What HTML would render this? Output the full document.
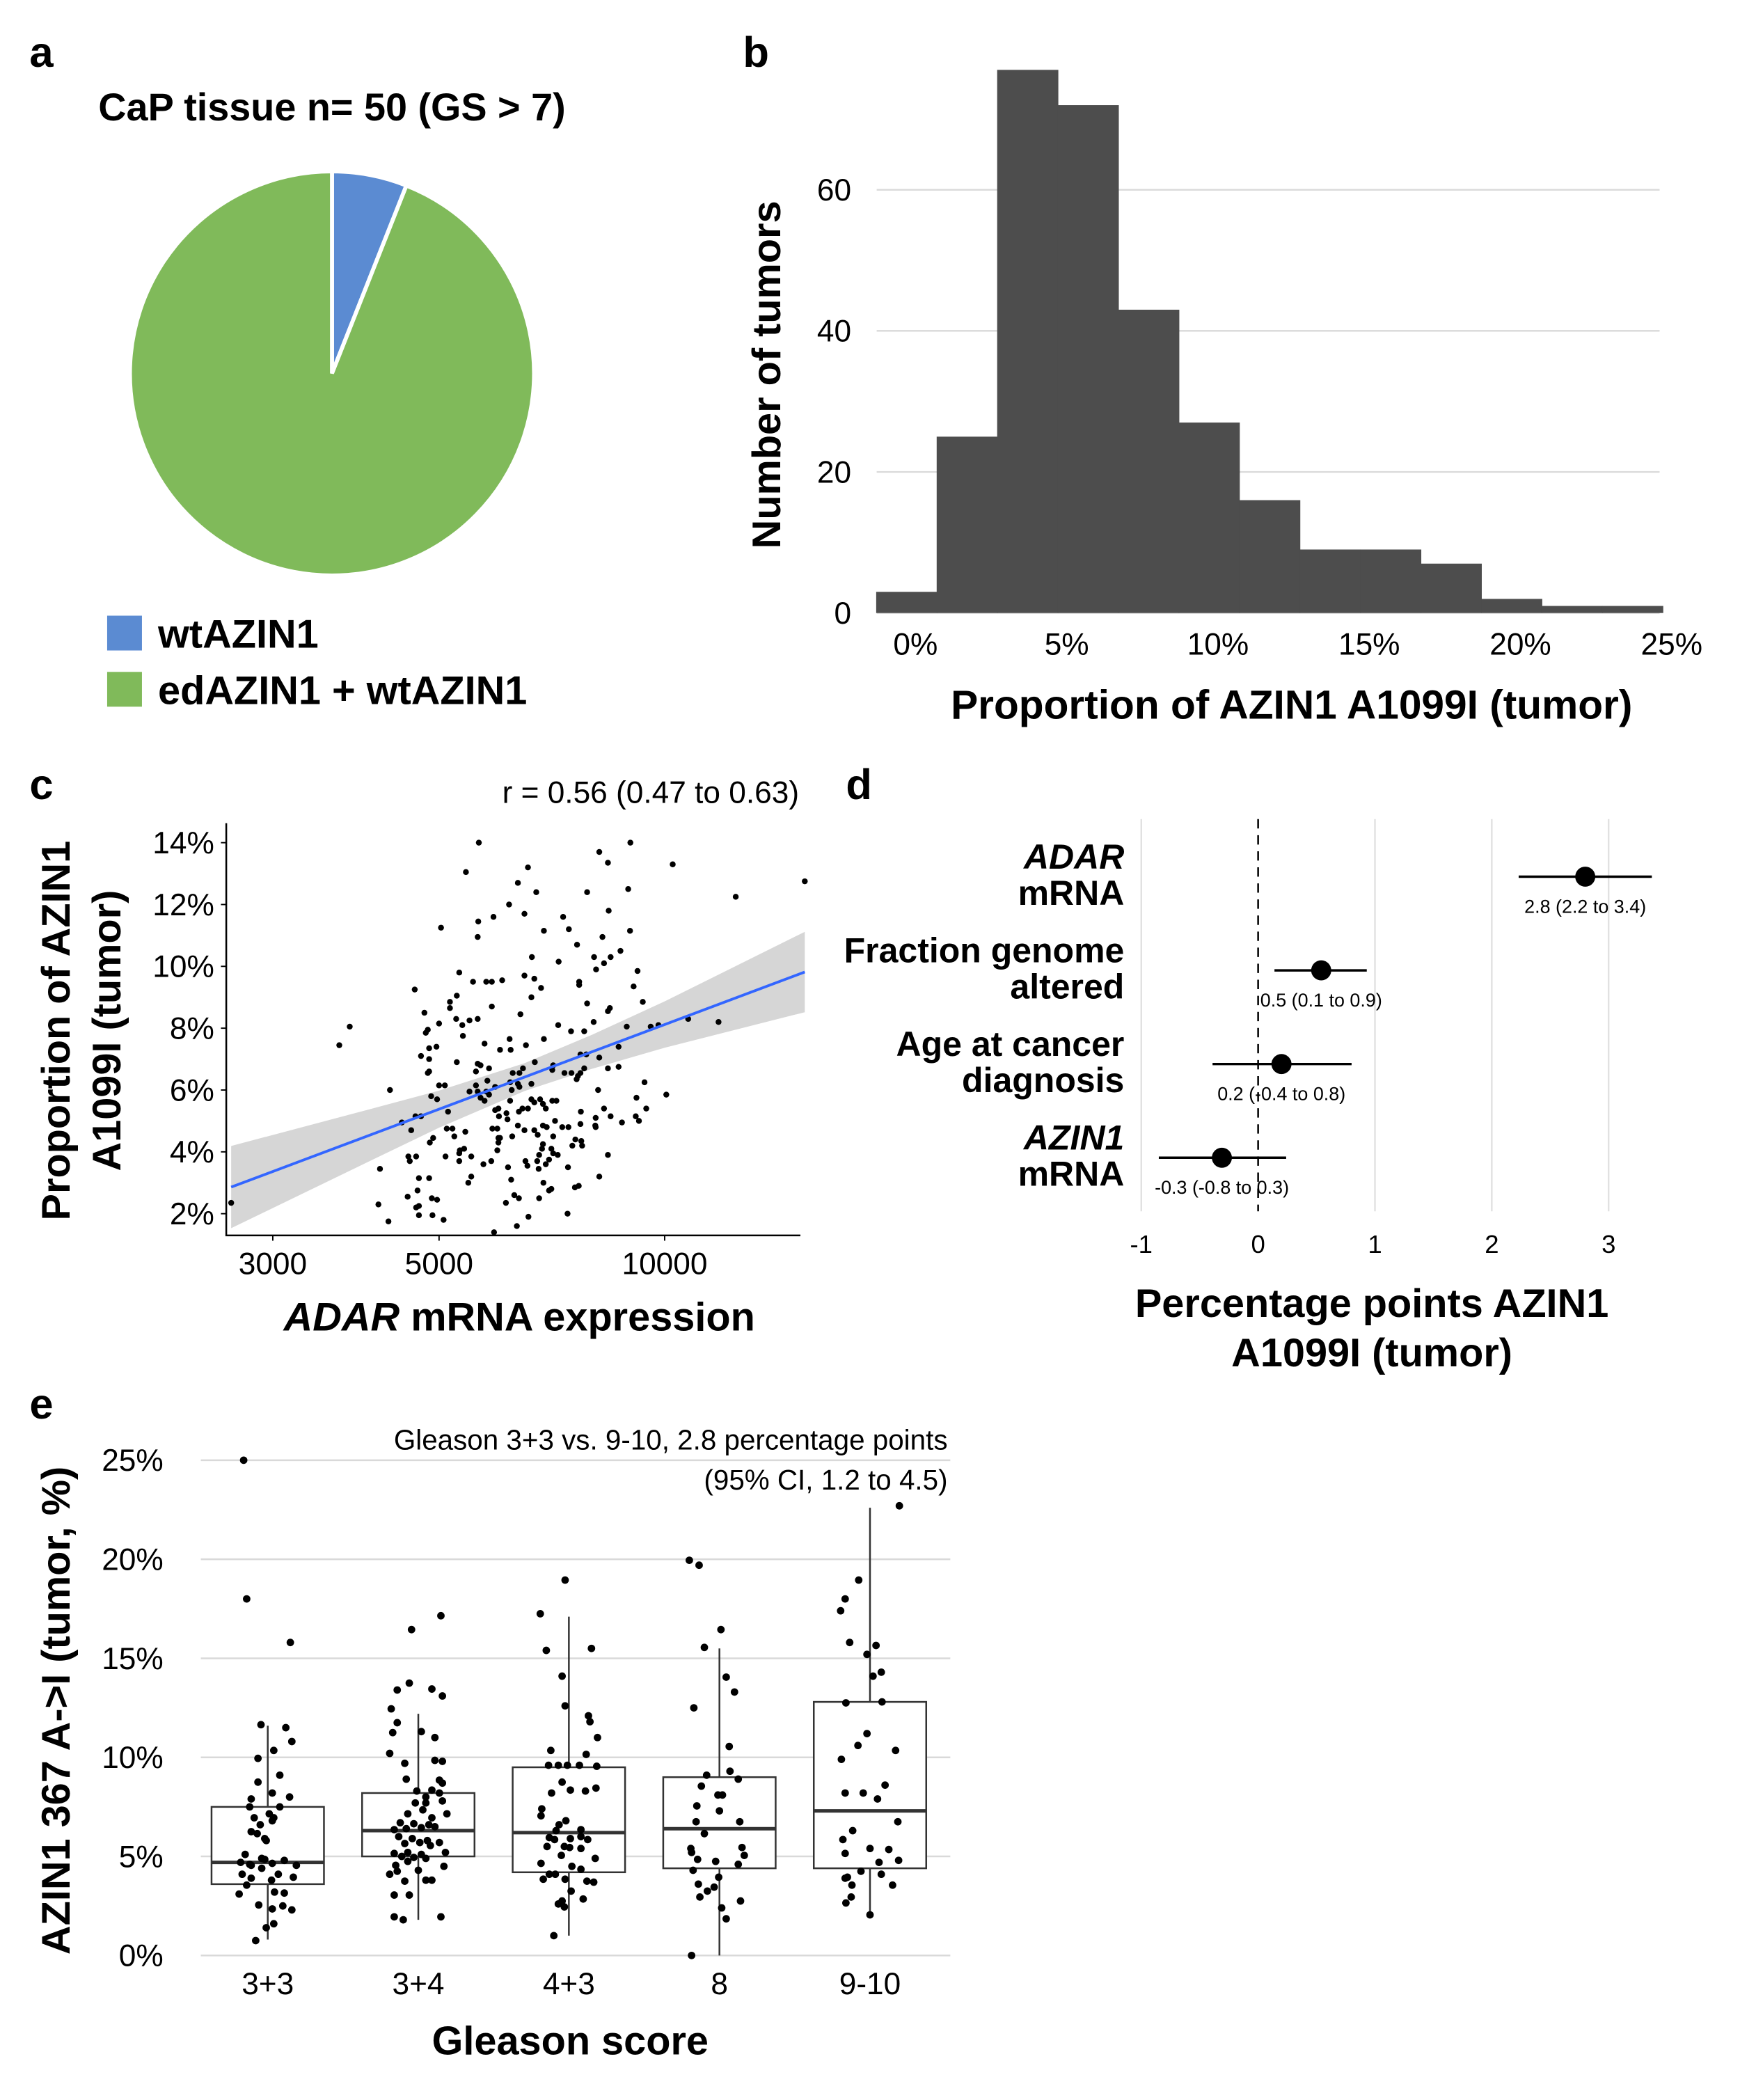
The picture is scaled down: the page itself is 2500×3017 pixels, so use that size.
<!DOCTYPE html>
<html><head><meta charset="utf-8">
<style>
html,body{margin:0;padding:0;background:#fff;}
svg{display:block;font-family:"Liberation Sans",Arial,sans-serif;}
.n{font-family:"Liberation Sans Narrow","Liberation Sans",sans-serif;}
.b{font-weight:bold;}
</style></head>
<body>
<svg id="fig" width="2500" height="3017" viewBox="0 0 1300 1569" xmlns="http://www.w3.org/2000/svg">
<g id="pa"></g>
<g id="pb"></g>
<g id="pc"></g>
<g id="pd"></g>
<g id="pe"></g>
</svg>
<script>
// ---------- data ----------
const pieLabels = ["wtAZIN1","edAZIN1 + wtAZIN1"];
const pieValues = [3,47];
const pieColors = ["#5b8bd2","#80ba5a"];

const histBinStart = -1.3; const histBinWidth = 2;
const histCounts = [3,25,77,72,43,27,16,9,9,7,2,1,1];
const histYTicks = [0,20,40,60];
const histXTicks = [0,5,10,15,20,25];

const scX = [15380,10750,11800,12440,10050,2640,3800,3680,4300,4170,4150,4280,5650,9000,8180,8400,10250,6570,5430,6370,8940,6740,7880,6200,6500,8420,5640,5910,7320,5030,6900,7450,8990,5630,8260,7640,8730,8050,8470,6650,7220,8300,8100,9200,5320,6500,6700,5550,5780,5880,6070,7690,7690,9090,4640,6840,6640,5280,7880,9350,5170,5170,5880,8450,8400,4780,6420,5270,5490,5630,8040,5000,5370,7210,8900,9580,9810,4830,4800,7500,7810,5380,6900,6210,5750,6530,4850,4960,6030,6230,8680,4730,7720,7860,4850,8180,5280,6710,5630,5680,5830,6470,7100,7080,8400,8680,7810,4830,4850,5600,6270,6400,7350,7510,7720,7630,7660,6220,5800,6370,6640,9400,5000,5090,5600,5940,6400,6250,8150,5490,5630,5780,5830,4880,4970,5680,5750,6220,6640,6700,6820,7080,7170,9170,6880,6940,9450,5940,6000,6390,6460,6570,7730,8300,5140,6150,6010,8090,8470,9150,9240,4650,4730,4460,8770,6170,7140,7720,8080,8090,4590,5120,5210,5420,5890,5980,6370,6500,6700,6880,6960,7300,7440,5240,6000,6030,6260,6770,7100,7600,4910,4860,6000,6880,7740,7530,7760,6860,7060,5980,5330,5400,5320,4550,4660,5100,5520,6800,7100,7200,8400,4570,5320,5730,5870,6520,6760,7010,6940,7430,6560,6180,6790,5520,8180,4700,4850,6240,5470,6890,7060,7680,7590,4680,7010,6300,4540,4890,4970,6390,6800,6140,4660,4700,4700,7420,4900,6580,5070,6350,5920];
const scY = [12.75,8.3,8.2,12.25,5.85,2.35,8.05,7.45,6.0,3.45,2.3,1.75,14.0,14.0,13.7,13.35,13.3,13.2,13.05,12.7,12.5,12.4,12.4,12.0,11.7,11.8,11.45,11.6,11.6,11.25,11.15,11.2,11.15,10.95,10.95,10.7,10.5,10.3,10.3,10.3,10.15,10.1,9.9,9.85,9.8,9.7,9.6,9.5,9.5,9.5,9.55,9.5,9.4,9.35,9.25,9.3,9.0,9.05,8.8,8.85,8.85,8.65,8.7,8.65,8.55,8.5,8.45,8.3,8.25,8.3,8.2,8.15,8.1,8.1,8.05,8.05,8.1,7.95,7.85,7.9,7.9,7.75,7.65,7.65,7.5,7.45,7.35,7.4,7.3,7.3,7.4,7.1,7.15,7.15,7.0,7.05,6.9,6.9,6.85,6.8,6.7,6.7,6.8,6.65,6.7,6.75,6.7,6.55,6.6,6.6,6.55,6.55,6.55,6.55,6.55,6.35,6.45,6.25,6.3,6.2,6.2,6.25,6.15,6.15,6.15,6.1,6.1,6.0,6.0,5.95,5.95,5.95,5.85,5.8,5.7,5.75,5.65,5.65,5.7,5.6,5.7,5.65,5.65,5.75,5.55,5.4,5.4,5.35,5.4,5.3,5.4,5.4,5.3,5.4,5.3,5.25,5.15,5.1,5.15,5.15,5.0,5.15,5.15,4.95,4.95,5.05,5.0,4.9,4.85,4.8,4.7,4.75,4.75,4.65,4.75,4.75,4.85,4.7,4.7,4.85,4.8,4.8,4.8,4.5,4.45,4.45,4.5,4.55,4.5,4.4,4.45,4.3,4.3,4.25,4.35,4.2,4.2,4.1,4.1,4.05,4.05,4.1,3.95,3.85,3.85,3.85,3.85,3.9,3.95,3.9,3.9,3.7,3.7,3.6,3.7,3.7,3.7,3.75,3.6,3.5,3.55,3.5,3.45,3.2,3.2,3.15,3.15,3.1,3.0,3.0,2.8,2.9,2.85,2.75,2.75,2.6,2.55,2.5,2.45,2.5,2.5,2.35,2.2,2.25,1.95,2.0,1.95,1.9,1.8,1.6,1.4];
const fitIntercept = 2.86; const fitSlope = 9.09; const fitX0 = 2640;
const bandX = [2640,4000,5000,6500,8000,10000,15380];
const bandHalf = [1.33,0.85,0.6,0.45,0.55,0.75,1.3];
const scXTicks = [3000,5000,10000];
const scYTicks = [2,4,6,8,10,12,14];

const forestLabels = [["ADAR","mRNA"],["Fraction genome","altered"],["Age at cancer","diagnosis"],["AZIN1","mRNA"]];
const forestItalic = [true,false,false,true];
const forestEst = [2.8,0.54,0.2,-0.31];
const forestLo = [2.23,0.14,-0.39,-0.85];
const forestHi = [3.37,0.93,0.8,0.24];
const forestText = ["2.8 (2.2 to 3.4)","0.5 (0.1 to 0.9)","0.2 (-0.4 to 0.8)","-0.3 (-0.8 to 0.3)"];
const forestXTicks = [-1,0,1,2,3];

const gleCats = ["3+3","3+4","4+3","8","9-10"];
const gleQ1 = [3.6,5.0,4.2,4.4,4.4];
const gleMed = [4.7,6.3,6.2,6.4,7.3];
const gleQ3 = [7.5,8.2,9.5,9.0,12.8];
const gleWLo = [0.8,1.8,1.0,0.0,2.0];
const gleWHi = [11.6,12.2,17.1,15.5,22.6];
const gleYTicks = [0,5,10,15,20,25];
const g33 = [[25.0,-.16],[18.0,-.14],[15.8,.15],[11.65,-.045],[11.5,.12],[10.8,.16],[9.95,-.065],[10.35,.04],[9.1,.08],[8.75,-.065],[7.9,-.11],[8.2,.03],[8.0,.145],[7.5,-.12],[7.5,.08],[7.15,.01],[6.95,.04],[6.95,-.09],[6.8,.03],[6.6,-.05],[6.25,-.11],[6.15,-.07],[5.9,-.02],[5.8,-.01],[5.1,-.15],[4.9,-.04],[4.85,-.02],[4.8,.11],[4.7,-.18],[4.6,-.12],[4.65,.03],[4.55,-.11],[4.55,.19],[4.4,-.04],[4.1,-.17],[4.1,.07],[3.95,.17],[3.9,-.11],[3.8,.025],[3.55,-.14],[3.1,-.19],[3.2,.045],[3.15,.11],[2.55,-.06],[2.35,.03],[2.5,.1],[2.3,.16],[1.6,.04],[1.4,-.01],[0.75,-.08]];
const g34 = [[17.15,.15],[16.45,-.045],[13.75,-.06],[13.4,-.14],[13.45,.09],[13.1,.16],[12.45,-.18],[11.75,-.14],[11.25,-.17],[11.3,.02],[11.0,.11],[10.2,-.19],[9.7,-.09],[9.85,.11],[9.8,.16],[8.9,-.08],[8.85,.14],[8.7,.16],[8.3,-.01],[8.35,.09],[8.2,.14],[8.0,.05],[7.8,.16],[7.7,.05],[7.7,-.02],[7.35,.03],[7.15,.19],[7.15,-.07],[6.95,.09],[6.7,-.12],[6.65,-.03],[6.6,.07],[6.35,-.16],[6.4,-.08],[6.45,.02],[6.5,.11],[6.0,-.13],[5.9,-.04],[5.8,.06],[5.7,.14],[5.65,-.09],[5.7,.01],[5.55,.08],[5.15,-.16],[5.2,-.07],[5.1,.02],[5.2,.18],[5.0,-.11],[4.95,-.03],[4.9,.05],[4.75,-.07],[4.55,-.15],[4.5,.17],[4.3,0],[4.25,-.14],[4.1,-.19],[3.75,-.09],[3.8,.05],[3.8,.09],[3.05,-.16],[3.05,-.06],[1.95,-.16],[1.8,-.1],[1.95,.15]];
const g43 = [[18.95,-.025],[17.25,-.19],[15.4,-.15],[15.5,.15],[14.1,-.045],[12.6,-.025],[12.1,.13],[11.8,.14],[11.0,.19],[10.35,-.12],[10.15,.115],[9.6,-.135],[9.6,-.07],[9.6,-.01],[9.6,.07],[9.55,.185],[8.75,-.045],[8.35,.01],[8.2,-.115],[8.3,.11],[8.45,.18],[7.4,-.18],[7.05,-.185],[6.8,-.02],[6.6,-.065],[6.3,-.085],[6.35,.08],[5.95,-.13],[5.85,-.095],[5.9,.01],[6.0,.08],[5.85,.125],[5.5,-.145],[5.5,-.03],[5.45,.005],[5.4,.08],[5.05,-.05],[4.9,.175],[4.65,-.185],[4.5,.02],[4.35,.08],[4.1,-.13],[4.1,-.09],[3.85,-.025],[3.85,-.17],[3.75,.12],[3.7,.165],[3.25,.015],[2.75,-.045],[2.6,-.07],[2.45,-.03],[2.85,.095],[1.0,-.1]];
const g8 = [[19.95,-.2],[19.7,-.135],[16.45,.01],[15.55,-.1],[14.05,.045],[13.3,.1],[12.5,-.17],[10.55,.065],[9.1,-.085],[9.3,.07],[8.9,.125],[8.55,-.12],[8.1,-.01],[8.1,.02],[7.55,-.15],[7.3,0],[6.75,-.155],[6.75,.135],[6.15,-.1],[5.4,-.19],[5.45,.15],[5.05,.165],[5.2,-.185],[4.85,-.145],[4.75,-.025],[4.6,.125],[4.3,-.175],[3.95,-.005],[3.6,-.14],[3.45,-.035],[3.25,-.08],[2.95,-.13],[2.75,.14],[2.4,.015],[1.85,.045],[0.0,-.185]];
const g910 = [[22.7,.195],[18.95,-.075],[17.4,-.195],[18.0,-.165],[15.8,-.135],[15.2,-.02],[15.65,.04],[14.3,.075],[14.1,.02],[12.75,-.16],[12.8,.08],[11.2,-.02],[10.6,-.08],[10.35,.17],[9.9,-.19],[8.6,.1],[8.2,-.165],[8.2,-.045],[7.9,.05],[6.75,.185],[6.3,-.115],[5.85,-.18],[5.4,0],[5.35,.125],[5.15,-.165],[4.8,.19],[4.7,.06],[4.25,-.06],[3.9,-.165],[3.95,-.15],[4.1,.075],[3.55,.15],[3.55,-.12],[2.95,-.125],[2.65,-.16],[2.05,0]];
const gleGroups = [g33,g34,g43,g8,g910];

// ---------- helpers ----------
const NS="http://www.w3.org/2000/svg";
function mk(parent,tag,attrs,text){const e=document.createElementNS(NS,tag);for(const k in attrs)e.setAttribute(k,attrs[k]);if(text!==undefined)e.textContent=text;parent.appendChild(e);return e;}

// ---------- panel a ----------
(function(){
const g=document.getElementById('pa');
let t=mk(g,'text',{x:22,y:50,'font-size':32,'font-weight':'bold'},'a');


t=mk(g,'text',{x:248,y:90,'font-size':29,'font-weight':'bold','text-anchor':'middle'},'CaP tissue n= 50 (GS > 7)');


const cx=248,cy=279,r=151;const tot=pieValues.reduce((a,b)=>a+b,0);let a0=0;
pieValues.forEach((v,i)=>{const a1=a0+v/tot*2*Math.PI;
 const x0=cx+r*Math.sin(a0),y0=cy-r*Math.cos(a0),x1=cx+r*Math.sin(a1),y1=cy-r*Math.cos(a1);
 const large=(a1-a0)>Math.PI?1:0;
 const p=mk(g,'path',{d:`M${cx},${cy} L${x0},${y0} A${r},${r} 0 ${large} 1 ${x1},${y1} Z`,fill:pieColors[i],stroke:'#fff','stroke-width':3});
 
 
 a0=a1;});
pieLabels.forEach((l,i)=>{const y=460+i*42;
 const s=mk(g,'rect',{x:80,y:y,width:26,height:26,fill:pieColors[i]});
 
 
 const tx=mk(g,'text',{x:118,y:y+24,'font-size':30,'font-weight':'bold'},l);
 
 });
})();

// ---------- panel b ----------
(function(){
const g=document.getElementById('pb');
let t=mk(g,'text',{x:555,y:50,'font-size':32,'font-weight':'bold'},'b');


const X=v=>684+v*22.6, Y=v=>458-v*5.27;
histYTicks.forEach(v=>{const l=mk(g,'line',{x1:655,x2:1240,y1:Y(v),y2:Y(v),stroke:'#d9d9d9','stroke-width':1.2});
 
 
 const tx=mk(g,'text',{x:636,y:Y(v)+8,'font-size':23,'text-anchor':'end',class:'n'},String(v));
 
 });
histCounts.forEach((c,i)=>{const x0=X(histBinStart+i*histBinWidth),x1=X(histBinStart+(i+1)*histBinWidth);
 const r=mk(g,'rect',{x:x0,y:Y(c),width:x1-x0+0.5,height:Y(0)-Y(c),fill:'#4d4d4d'});
 
 });
histXTicks.forEach(v=>{const tx=mk(g,'text',{x:X(v),y:489,'font-size':23,'text-anchor':'middle',class:'n'},v+'%');
 
 });
t=mk(g,'text',{x:0,y:0,'font-size':30,'font-weight':'bold','text-anchor':'middle',transform:'translate(583,280) rotate(-90)'},'Number of tumors');


t=mk(g,'text',{x:965,y:537,'font-size':30.5,'font-weight':'bold','text-anchor':'middle'},'Proportion of AZIN1 A1099I (tumor)');


})();

// ---------- panel c ----------
(function(){
const g=document.getElementById('pc');
let t=mk(g,'text',{x:22,y:597,'font-size':32,'font-weight':'bold'},'c');


t=mk(g,'text',{x:597,y:600,'font-size':23,'text-anchor':'end'},'r = 0.56 (0.47 to 0.63)');


const X=v=>328+560*Math.log10(v/5000), Y=v=>953-23.1*v;
const fit=x=>fitIntercept+fitSlope*Math.log10(x/fitX0);
let top=bandX.map((x,i)=>`${X(x)},${Y(fit(x)+bandHalf[i])}`);
let bot=bandX.map((x,i)=>`${X(x)},${Y(fit(x)-bandHalf[i])}`).reverse();
const band=mk(g,'polygon',{points:top.concat(bot).join(' '),fill:'#d6d6d6'});


scX.forEach((x,i)=>{const c=mk(g,'circle',{cx:X(x),cy:Y(scY[i]),r:2.2,fill:'#000'});
 
 });
const x0=bandX[0],x1=bandX[bandX.length-1];
const ln=mk(g,'line',{x1:X(x0),y1:Y(fit(x0)),x2:X(x1),y2:Y(fit(x1)),stroke:'#3366ff','stroke-width':2});


const ax=mk(g,'path',{d:'M169,615 L169,923 L598,923',fill:'none',stroke:'#000','stroke-width':1.3});


scYTicks.forEach(v=>{mk(g,'line',{x1:165,x2:169,y1:Y(v),y2:Y(v),stroke:'#000'});
 const tx=mk(g,'text',{x:160,y:Y(v)+8,'font-size':23,'text-anchor':'end',class:'n'},v+'%');
 
 });
scXTicks.forEach(v=>{mk(g,'line',{x1:X(v),x2:X(v),y1:923,y2:927,stroke:'#000'});
 const tx=mk(g,'text',{x:X(v),y:952,'font-size':23,'text-anchor':'middle',class:'n'},String(v));
 
 });
t=mk(g,'text',{x:0,y:0,'font-size':30,'font-weight':'bold','text-anchor':'middle',transform:'translate(52,770) rotate(-90)'},'Proportion of AZIN1');


t=mk(g,'text',{x:0,y:0,'font-size':30,'font-weight':'bold','text-anchor':'middle',transform:'translate(90,770) rotate(-90)'},'A1099I (tumor)');


t=mk(g,'text',{x:388,y:994,'font-size':30,'font-weight':'bold','text-anchor':'middle'});


mk(t,'tspan',{'font-style':'italic'},'ADAR');mk(t,'tspan',{},' mRNA expression');
})();

// ---------- panel d ----------
(function(){
const g=document.getElementById('pd');
let t=mk(g,'text',{x:632,y:597,'font-size':32,'font-weight':'bold'},'d');


const X=v=>940+v*87.3; const rowY=[655,725,795,865];
forestXTicks.forEach(v=>{
 if(v!==0){const l=mk(g,'line',{x1:X(v),x2:X(v),y1:612,y2:905,stroke:'#e0e0e0','stroke-width':1.2});
 
 }
 const tx=mk(g,'text',{x:X(v),y:936,'font-size':19,'text-anchor':'middle',class:'n'},String(v));
 
 });
const z=mk(g,'line',{x1:X(0),x2:X(0),y1:612,y2:905,stroke:'#000','stroke-width':1.3,'stroke-dasharray':'7,5'});


forestEst.forEach((e,i)=>{const y=rowY[i];
 const ci=mk(g,'line',{x1:X(forestLo[i]),x2:X(forestHi[i]),y1:y,y2:y,stroke:'#000','stroke-width':1.8});
 
 
 const c=mk(g,'circle',{cx:X(e),cy:y,r:7.5,fill:'#000'});
 
 
 const tx=mk(g,'text',{x:X(e),y:y+27,'font-size':14,'text-anchor':'middle',class:'n'},forestText[i]);
 
 
 forestLabels[i].forEach((s,j)=>{const l=mk(g,'text',{x:840,y:y-6+j*27,'font-size':26,'font-weight':'bold','text-anchor':'end',class:'n'},s);
  if(j===0&&forestItalic[i])l.setAttribute('font-style','italic');
  
  });
});
t=mk(g,'text',{x:1025,y:984,'font-size':30,'font-weight':'bold','text-anchor':'middle'},'Percentage points AZIN1');


t=mk(g,'text',{x:1025,y:1021,'font-size':30,'font-weight':'bold','text-anchor':'middle'},'A1099I (tumor)');


})();

// ---------- panel e ----------
(function(){
const g=document.getElementById('pe');
let t=mk(g,'text',{x:22,y:1060,'font-size':32,'font-weight':'bold'},'e');


const Y=v=>1461-v*14.8, CX=i=>200+i*112.5, BW=84;
gleYTicks.forEach(v=>{const l=mk(g,'line',{x1:150,x2:710,y1:Y(v),y2:Y(v),stroke:'#d9d9d9','stroke-width':1.3});
 
 
 const tx=mk(g,'text',{x:122,y:Y(v)+8,'font-size':23,'text-anchor':'end',class:'n'},v+'%');
 
 });
gleCats.forEach((c,i)=>{const cx=CX(i);
 const w=mk(g,'line',{x1:cx,x2:cx,y1:Y(gleWLo[i]),y2:Y(gleWHi[i]),stroke:'#333','stroke-width':1.3});
 
 
 const b=mk(g,'rect',{x:cx-BW/2,y:Y(gleQ3[i]),width:BW,height:Y(gleQ1[i])-Y(gleQ3[i]),fill:'#fff',stroke:'#333','stroke-width':1.3});
 
 
 const m=mk(g,'line',{x1:cx-BW/2,x2:cx+BW/2,y1:Y(gleMed[i]),y2:Y(gleMed[i]),stroke:'#333','stroke-width':2.6});
 
 
 const tx=mk(g,'text',{x:cx,y:1490,'font-size':23,'text-anchor':'middle',class:'n'},c);
 
 
});
gleGroups.forEach((grp,i)=>grp.forEach(p=>{const c=mk(g,'circle',{cx:CX(i)+p[1]*112.5,cy:Y(p[0]),r:2.8,fill:'#000'});
 
 }));
t=mk(g,'text',{x:708,y:1083,'font-size':21,'text-anchor':'end',class:'n'},'Gleason 3+3 vs. 9-10, 2.8 percentage points');


t=mk(g,'text',{x:708,y:1113,'font-size':21,'text-anchor':'end',class:'n'},'(95% CI, 1.2 to 4.5)');


t=mk(g,'text',{x:0,y:0,'font-size':30,'font-weight':'bold','text-anchor':'middle',transform:'translate(52,1278) rotate(-90)'},'AZIN1 367 A->I (tumor, %)');


t=mk(g,'text',{x:426,y:1535,'font-size':30,'font-weight':'bold','text-anchor':'middle'},'Gleason score');


})();
</script>
</body></html>
